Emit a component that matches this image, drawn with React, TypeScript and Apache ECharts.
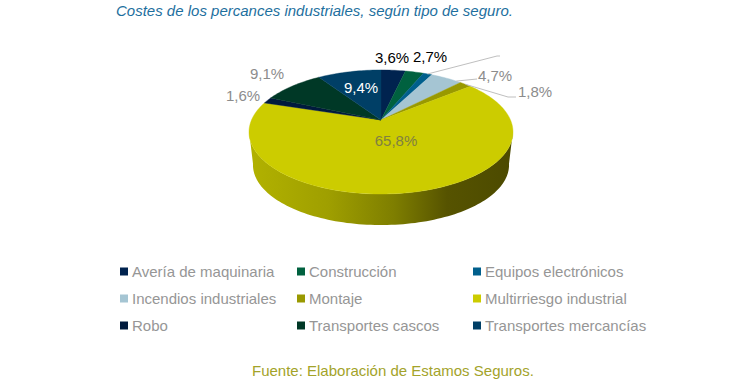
import React, { useEffect, useRef } from "react";
import * as echarts from "echarts";

const titleText = "Costes de los percances industriales, según tipo de seguro.";
const sourceText = "Fuente: Elaboración de Estamos Seguros.";
const categories = ["Avería de maquinaria", "Construcción", "Equipos electrónicos", "Incendios industriales", "Montaje", "Multirriesgo industrial", "Robo", "Transportes cascos", "Transportes mercancías"];
const values = [3.6, 2.7, 1.3, 4.7, 1.8, 65.8, 1.6, 9.1, 9.4];
const colors = ["#00234f", "#00613f", "#005f8c", "#a5c5d3", "#999900", "#cccc00", "#001a3d", "#003826", "#003f66"];

// Label placement, by category index (the third slice's label is not visible in the reference)
const labelSpots: Record<number, { x: number; y: number; fill: string }> = {
  0: { x: 392, y: 57, fill: "#000000" },
  1: { x: 430, y: 56, fill: "#000000" },
  3: { x: 495, y: 75, fill: "#8c8c8c" },
  4: { x: 535, y: 91, fill: "#8c8c8c" },
  5: { x: 396, y: 140, fill: "#808040" },
  6: { x: 243, y: 95, fill: "#8c8c8c" },
  7: { x: 267, y: 73, fill: "#8c8c8c" },
  8: { x: 361, y: 87, fill: "#ffffff" },
};
const leaders: { index: number; at: number; rest: number[][] }[] = [
  { index: 2, at: 0.5, rest: [[497, 56], [500, 56]] },
  { index: 3, at: 0.85, rest: [[477, 79]] },
  { index: 4, at: 0.5, rest: [[508, 97], [516, 97]] },
];

const FONT = "Liberation Sans, Arial, sans-serif";
const APEX_X = 381, APEX_Y = 120;
const PERSP = 0.1935, AX = 129.5, AY = 59.7;
const BASE_SCALE_X = 0.97, BASE_SCALE_Y = 0.968, BASE_DROP = 33.4;

const total = values.reduce((a, b) => a + b, 0);
const starts = values.map((_, i) => values.slice(0, i).reduce((a, b) => a + b, 0));

// perspective projection of a point on the disc's rim; the angle runs clockwise from the back
function rim(deg: number, r = 1) {
  const t = (deg * Math.PI) / 180;
  const u = Math.sin(t) * r, v = -Math.cos(t) * r;
  const w = 1 - PERSP * v;
  return [(AX * u) / w, (AY * v) / w];
}
const toTop = (p: number[]) => [APEX_X + p[0], APEX_Y + p[1]];
const toBase = (p: number[]) => [APEX_X + p[0] * BASE_SCALE_X, APEX_Y + p[1] * BASE_SCALE_Y + BASE_DROP];
const angleOf = (pct: number) => (pct / total) * 360;

function sweep(a0: number, a1: number, project: (p: number[]) => number[]) {
  const n = Math.max(2, Math.ceil(Math.abs(a1 - a0) / 1.5));
  const pts: number[][] = [];
  for (let i = 0; i <= n; i++) pts.push(project(rim(a0 + ((a1 - a0) * i) / n)));
  return pts;
}

const wallFill = new echarts.graphic.LinearGradient(0, 0, 1, 0, [
  { offset: 0, color: "#b2b200" },
  { offset: 0.3, color: "#9f9f00" },
  { offset: 0.55, color: "#7e7e00" },
  { offset: 0.75, color: "#565300" },
  { offset: 1, color: "#4c4a00" },
]);

const sliceSeries = categories.map((name, i) => ({
  type: "custom",
  name,
  coordinateSystem: "none",
  itemStyle: { color: colors[i] },
  data: [[starts[i], values[i]]],
  z: 2,
  silent: true,
  renderItem: (_: any, api: any) => {
    const a0 = angleOf(api.value(0));
    const a1 = angleOf(api.value(0) + api.value(1));
    const children: any[] = [];
    const front0 = Math.max(a0, 100);
    const front1 = Math.min(a1, 260);
    if (front1 > front0) {
      children.push({
        type: "polygon",
        shape: { points: [...sweep(front0, front1, toTop), ...sweep(front1, front0, toBase)] },
        style: { fill: wallFill, stroke: "none" },
      });
    }
    children.push({
      type: "polygon",
      shape: { points: [[APEX_X, APEX_Y], ...sweep(a0, a1, toTop)] },
      style: { fill: colors[i], stroke: colors[i], lineWidth: 0.4 },
    });
    return { type: "group", children };
  },
}));

const labelSeries = {
  type: "custom",
  name: "labels",
  coordinateSystem: "none",
  data: values.map((v, i) => [i, v]),
  z: 5,
  silent: true,
  renderItem: (_: any, api: any) => {
    const i = api.value(0);
    const children: any[] = [];
    leaders.filter((l) => l.index === i).forEach((l) => {
      const start = toTop(rim(angleOf(starts[i] + values[i] * l.at)));
      children.push({
        type: "polyline",
        shape: { points: [start, ...l.rest] },
        style: { fill: "none", stroke: "#bfbfbf", lineWidth: 1 },
      });
    });
    const spot = labelSpots[i];
    if (spot) {
      children.push({
        type: "text",
        style: {
          x: spot.x, y: spot.y,
          text: api.value(1).toFixed(1).replace(".", ",") + "%",
          fill: spot.fill, font: `15px ${FONT}`, align: "center", verticalAlign: "middle",
        },
      });
    }
    return { type: "group", children };
  },
};

const legendBase = {
  orient: "vertical", top: 264, itemWidth: 8, itemHeight: 8, itemGap: 12, icon: "rect", selectedMode: false,
  textStyle: { color: "#969696", fontFamily: FONT, fontSize: 15, padding: [0, 0, 0, -1], lineHeight: 14 },
  padding: 0,
};

export default function App() {
  const ref = useRef<HTMLDivElement>(null);
  useEffect(() => {
    const chart = echarts.init(ref.current!, undefined, { renderer: "svg" });
    chart.setOption({
      animation: false,
      backgroundColor: "#ffffff",
      title: [
        { text: titleText, left: 116, top: 3, padding: 0, textStyle: { color: "#1d6f9e", fontFamily: FONT, fontSize: 15, fontStyle: "italic", fontWeight: "normal" } },
        { text: sourceText, left: 252, top: 363, padding: 0, textStyle: { color: "#a3a32a", fontFamily: FONT, fontSize: 15, fontWeight: "normal" } },
      ],
      legend: [
        { ...legendBase, left: 120, data: [categories[0], categories[3], categories[6]] },
        { ...legendBase, left: 297, data: [categories[1], categories[4], categories[7]] },
        { ...legendBase, left: 473, data: [categories[2], categories[5], categories[8]] },
      ],
      series: [...sliceSeries, labelSeries],
    });
    return () => chart.dispose();
  }, []);
  return <div ref={ref} style={{ position: "fixed", left: 0, top: 0, width: 755, height: 386 }} />;
}
